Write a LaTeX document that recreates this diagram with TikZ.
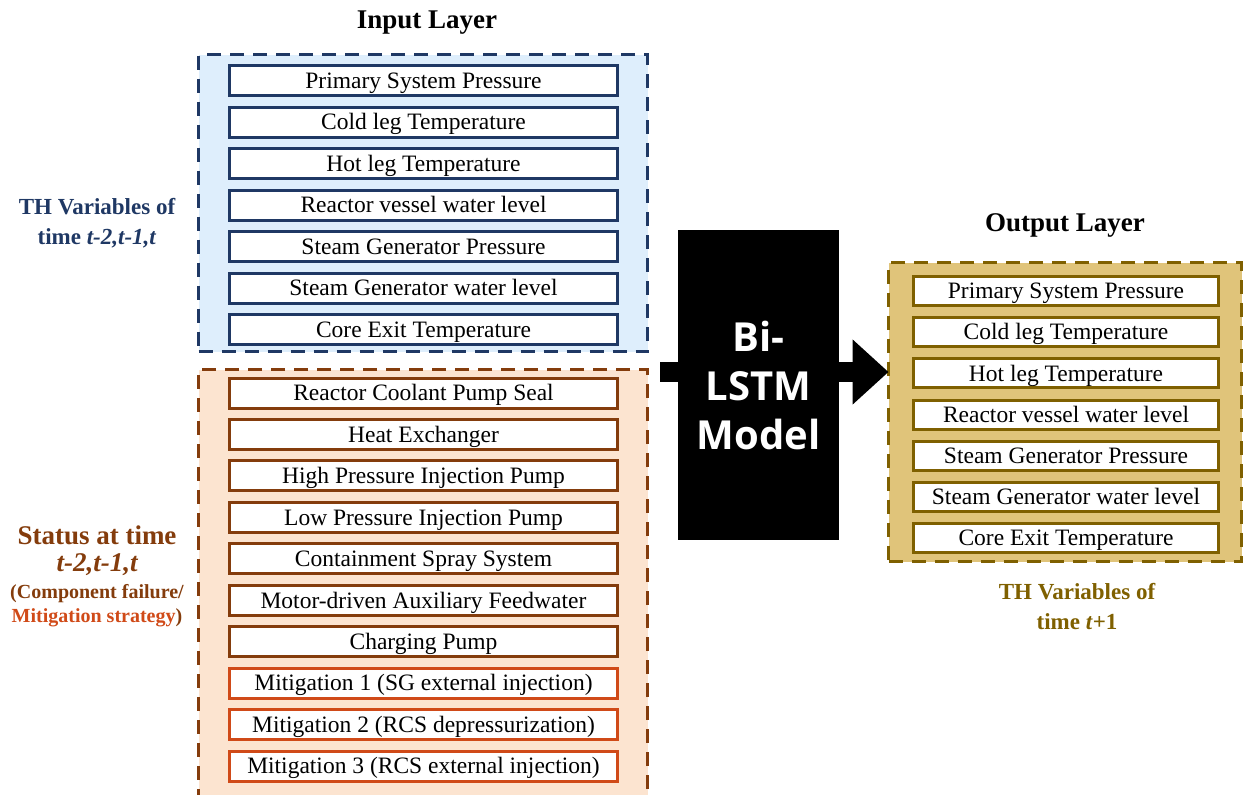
\documentclass[tikz,border=0pt]{standalone}
\usepackage{fontspec}
\setmainfont{Liberation Serif}
\newfontfamily\modelfont{Open Sans}
\usetikzlibrary{arrows.meta}

\definecolor{navy}{HTML}{1F3864}
\definecolor{rust}{HTML}{843C0C}
\definecolor{mitired}{HTML}{D04A18}
\definecolor{olive}{HTML}{7F6000}
\definecolor{inblue}{HTML}{DEEEFC}
\definecolor{stpeach}{HTML}{FCE4D0}
\definecolor{outgold}{HTML}{E0C47A}

\tikzset{
  layerbox/.style={draw, line width=3.3pt, dash pattern=on 14pt off 9pt, inner sep=0pt, outer sep=0pt},
  item/.style={draw, line width=3pt, fill=white, inner sep=0pt, outer sep=0pt,
    minimum height=30pt, text height=15.5pt, text depth=0pt, text=black,
    font=\fontsize{23.5}{28}\selectfont},
  initem/.style={item, draw=navy, minimum width=388pt},
  stitem/.style={item, draw=rust, minimum width=388pt},
  mitem/.style={item, draw=mitired, minimum width=388pt},
  outitem/.style={item, draw=olive, minimum width=305pt, minimum height=29pt},
  title/.style={font=\bfseries\fontsize{27}{32}\selectfont, text=black},
  sidelabel/.style={align=center, font=\bfseries\fontsize{23}{30}\selectfont},
}

\begin{document}
\begin{tikzpicture}[x=1pt, y=-1pt]
\useasboundingbox (0,0) rectangle (1245,795);

% layer frames
\node[layerbox, draw=navy, fill=inblue, minimum width=449pt, minimum height=297pt] (inframe) at (423,203) {};
\node[layerbox, draw=rust, fill=stpeach, minimum width=449pt, minimum height=430.5pt] (stframe) at (423,584.75) {};
\node[layerbox, draw=olive, fill=outgold, minimum width=353pt, minimum height=299pt] (outframe) at (1065,412) {};

% titles
\node[title] (intitle) at (427,23) {Input Layer};
\node[title] (outtitle) at (1065,225) {Output Layer};

% input variables
\foreach \t [count=\i from 0] in {Primary System Pressure, Cold leg Temperature, Hot leg Temperature,
  Reactor vessel water level, Steam Generator Pressure, Steam Generator water level, Core Exit Temperature}
  \node[initem] (in\i) at (423.5,{80.5+41.5*\i}) {\t};

% component status and mitigation inputs
\foreach \t [count=\i from 0] in {Reactor Coolant Pump Seal, Heat Exchanger, High Pressure Injection Pump,
  Low Pressure Injection Pump, Containment Spray System, Motor-driven Auxiliary Feedwater, Charging Pump}
  \node[stitem] (st\i) at (423.5,{393+41.45*\i}) {\t};
\node[mitem] (st7) at (423.5,{393+41.45*7}) {Mitigation 1 (SG external injection)};
\node[mitem] (st8) at (423.5,{393+41.45*8}) {Mitigation 2 (RCS depressurization)};
\node[mitem] (st9) at (423.5,{393+41.45*9}) {Mitigation 3 (RCS external injection)};

% output variables
\foreach \t [count=\i from 0] in {Primary System Pressure, Cold leg Temperature, Hot leg Temperature,
  Reactor vessel water level, Steam Generator Pressure, Steam Generator water level, Core Exit Temperature}
  \node[outitem] (out\i) at (1066,{291+41.2*\i}) {\t};

% side labels
\node[sidelabel, text=navy] (thin) at (97,223) {TH Variables of\\time \textit{t-2,t-1,t}};
\node[font=\bfseries\fontsize{27}{32}\selectfont, text=rust] (status) at (97,535) {Status at time};
\node[font=\bfseries\itshape\fontsize{27}{32}\selectfont, text=rust] (sttime) at (97,565) {t-2,t-1,t};
\node[font=\bfseries\fontsize{20}{24}\selectfont, text=rust] (stnote1) at (97,594) {(Component failure/};
\node[font=\bfseries\fontsize{20}{24}\selectfont, text=rust] (stnote2) at (97,618) {\textcolor{mitired}{Mitigation strategy})};
\node[sidelabel, text=olive] (thout) at (1077,607) {TH Variables of\\time \textit{t}+1};

% data flow arrow through the model
\coordinate (astart) at (660,372);
\draw[line width=20pt, -{Triangle[length=36pt, width=63pt]}] (astart) -- (astart -| outframe.west);

% model block
\node[fill=black, minimum width=161pt, minimum height=310pt, inner sep=0pt] (model) at (758.5,385) {};
\node[align=center, text=white, font=\modelfont\bfseries\fontsize{40}{49}\selectfont] (modeltext) at (model.center) {Bi-\\LSTM\\Model};
\end{tikzpicture}
\end{document}
